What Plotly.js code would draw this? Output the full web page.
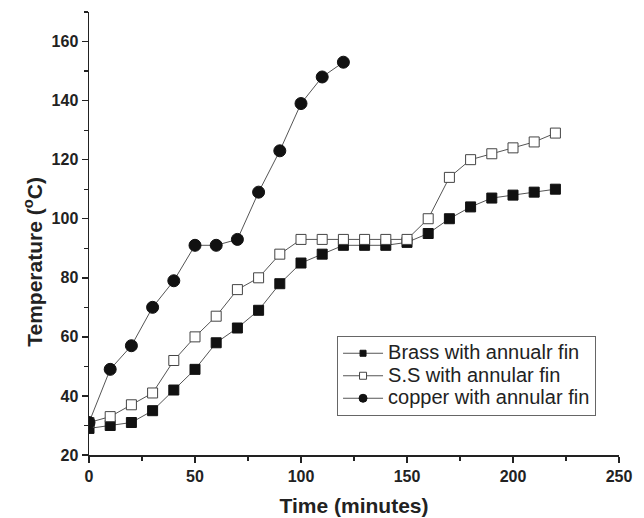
<!DOCTYPE html>
<html><head><meta charset="utf-8">
<script src="https://cdn.plot.ly/plotly-3.0.1.min.js"></script>
<style>body{margin:0;padding:0;background:#fff}#chart{width:644px;height:518px}</style>
</head><body><div id="chart"></div>
<script>
const timeBrass = [0,10,20,30,40,50,60,70,80,90,100,110,120,130,140,150,160,170,180,190,200,210,220];
const tempBrass = [29,30,31,35,42,49,58,63,69,78,85,88,91,91,91,92,95,100,104,107,108,109,110];
const timeSS = [0,10,20,30,40,50,60,70,80,90,100,110,120,130,140,150,160,170,180,190,200,210,220];
const tempSS = [31,33,37,41,52,60,67,76,80,88,93,93,93,93,93,93,100,114,120,122,124,126,129];
const timeCopper = [0,10,20,30,40,50,60,70,80,90,100,110,120];
const tempCopper = [31,49,57,70,79,91,91,93,109,123,139,148,153];
const seriesNames = ['Brass with annualr fin','S.S with annular fin','copper with annular fin'];
const xTicks = [0,50,100,150,200,250];
const yTicks = [20,40,60,80,100,120,140,160];

const lineStyle = {color:'#555', width:1};
const markers = [
  {symbol:'square', color:'#111', line:{color:'#111', width:1}},
  {symbol:'square', color:'#fff', line:{color:'#444', width:1}},
  {symbol:'circle', color:'#111', line:{color:'#111', width:1}}
];
const dataX = [timeBrass, timeSS, timeCopper];
const dataY = [tempBrass, tempSS, tempCopper];
const plotSizes = [10, 10, 12];
const legendSizes = [6, 7, 8];

const traces = [];
for (let i = 0; i < 3; i++) {
  traces.push({x:dataX[i], y:dataY[i], name:seriesNames[i], mode:'lines+markers', line:lineStyle,
    marker:Object.assign({size:plotSizes[i]}, markers[i]), showlegend:false});
}
for (let i = 0; i < 3; i++) {
  traces.push({x:[null], y:[null], name:'<span style="font-size:20px">' + seriesNames[i] + '</span>',
    mode:'lines+markers', line:lineStyle,
    marker:Object.assign({size:legendSizes[i]}, markers[i]), showlegend:true});
}

const fam = 'Liberation Sans, Arial, sans-serif';
const axisFont = {family:fam, size:16, color:'#222', weight:'bold'};
const layout = {
  width:644, height:518,
  margin:{l:89, r:25, t:12, b:63},
  paper_bgcolor:'#fff', plot_bgcolor:'#fff',
  showlegend:true,
  legend:{x:0.468, y:0.2686, xanchor:'left', yanchor:'top', bordercolor:'#666', borderwidth:1,
    bgcolor:'#fff', font:{family:fam, size:15, color:'#222'},
    tracegroupgap:0, itemwidth:40},
  xaxis:{range:[0,250], tickvals:xTicks, ticktext:xTicks.map(String), ticks:'outside', ticklen:6, tickwidth:1.5,
    tickcolor:'#222', showline:true, linecolor:'#222', linewidth:1.5, showgrid:false, zeroline:false,
    tickfont:axisFont,
    minor:{dtick:25, tick0:0, ticks:'outside', ticklen:4, tickwidth:1.2, tickcolor:'#222', showgrid:false},
    title:{text:'Time (minutes)', font:{family:fam, size:21, color:'#222', weight:'bold'}, standoff:14}},
  yaxis:{range:[20,170], tickvals:yTicks, ticktext:yTicks.map(String), ticks:'outside', ticklen:6, tickwidth:1.5,
    tickcolor:'#222', showline:true, linecolor:'#222', linewidth:1.5, showgrid:false, zeroline:false,
    tickfont:axisFont,
    minor:{dtick:10, tick0:0, ticks:'outside', ticklen:4, tickwidth:1.2, tickcolor:'#222', showgrid:false}},
  annotations:[{text:'Temperature (<sup>o</sup>C)', xref:'paper', yref:'paper', x:-0.105, y:0.437,
    xanchor:'center', yanchor:'middle', textangle:-90, showarrow:false,
    font:{family:fam, size:21, color:'#222', weight:'bold'}}]
};
Plotly.newPlot('chart', traces, layout, {displayModeBar:false, staticPlot:true});
</script></body></html>
